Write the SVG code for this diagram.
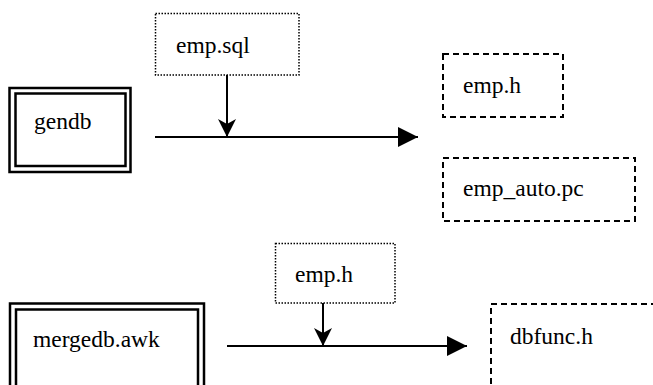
<svg xmlns="http://www.w3.org/2000/svg" width="653" height="385" viewBox="0 0 653 385">
<style>
.dbl{fill:none;stroke:#000;stroke-width:2.5}
.dot{fill:none;stroke:#000;stroke-width:1.5;stroke-dasharray:1.5 1.5}
.dash{fill:none;stroke:#000;stroke-width:2;stroke-dasharray:6 4}
.ln{fill:none;stroke:#000;stroke-width:2}
</style>
<defs>
<marker id="big" markerUnits="userSpaceOnUse" markerWidth="22" markerHeight="22" refX="20" refY="10" orient="auto" viewBox="0 0 22 22">
<path d="M0,0 L20,10 L0,20 Z" fill="#000"/>
</marker>
<marker id="small" markerUnits="userSpaceOnUse" markerWidth="20" markerHeight="20" refX="18" refY="9" orient="auto" viewBox="0 0 20 20">
<path d="M0,0 L18,9 L0,18 L5,9 Z" fill="#000"/>
</marker>
</defs>
<g font-family="Liberation Serif, serif" font-size="23.5" fill="#000">
<g id="gendb">
<rect class="dbl" x="9.5" y="88" width="121" height="84"/>
<rect class="dbl" x="15.5" y="93.5" width="110" height="72.5"/>
<text x="34" y="129">gendb</text>
</g>
<g id="emp_sql">
<rect class="dot" x="155.5" y="13.5" width="143.5" height="61.5"/>
<text x="176" y="53">emp.sql</text>
</g>
<g id="emp_h_out">
<rect class="dash" x="443" y="54" width="120" height="63"/>
<text x="463" y="93">emp.h</text>
</g>
<g id="emp_auto_pc">
<rect class="dash" x="443" y="158" width="192" height="63"/>
<text x="463" y="196">emp_auto.pc</text>
</g>
<g id="mergedb_awk">
<rect class="dbl" x="10" y="303.5" width="194" height="90"/>
<rect class="dbl" x="16" y="309.5" width="182" height="80"/>
<text x="33" y="347">mergedb.awk</text>
</g>
<g id="emp_h_in">
<rect class="dot" x="275.5" y="243.5" width="119.5" height="59.5"/>
<text x="295" y="282">emp.h</text>
</g>
<g id="dbfunc_h">
<rect class="dash" x="491" y="304" width="180" height="100"/>
<text x="510" y="344">dbfunc.h</text>
</g>
</g>
<g id="connectors">
<line class="ln" x1="155" y1="137" x2="418" y2="137" marker-end="url(#big)"/>
<line class="ln" x1="227" y1="75" x2="227" y2="137" marker-end="url(#small)"/>
<line class="ln" x1="227" y1="346" x2="467" y2="346" marker-end="url(#big)"/>
<line class="ln" x1="323" y1="303" x2="323" y2="346" marker-end="url(#small)"/>
</g>
</svg>
